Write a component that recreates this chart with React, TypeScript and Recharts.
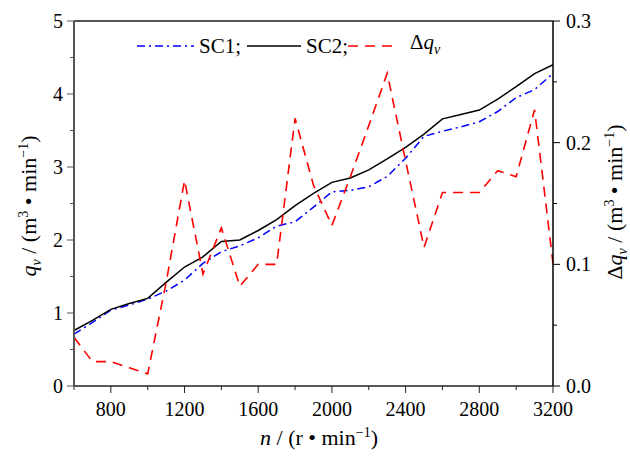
import React from "react";
import {
  LineChart,
  Line,
  XAxis,
  YAxis,
  Legend,
  Label,
  ReferenceLine,
} from "recharts";

// rotation speed n (r/min)
const rpm = [
  600, 700, 800, 900, 1000, 1100, 1200, 1300, 1400, 1500, 1600, 1700, 1800,
  1900, 2000, 2100, 2200, 2300, 2400, 2500, 2600, 2700, 2800, 2900, 3000,
  3100, 3200,
];
// flow qv for SC1 (m3/min)
const sc1 = [
  0.71, 0.87, 1.04, 1.11, 1.19, 1.3, 1.45, 1.68, 1.84, 1.92, 2.03, 2.19, 2.25,
  2.45, 2.66, 2.68, 2.73, 2.87, 3.12, 3.42, 3.49, 3.55, 3.62, 3.76, 3.95, 4.06,
  4.28,
];
// flow qv for SC2 (m3/min)
const sc2 = [
  0.76, 0.9, 1.05, 1.13, 1.2, 1.42, 1.63, 1.77, 1.98, 2.0, 2.13, 2.28, 2.47,
  2.64, 2.79, 2.85, 2.96, 3.11, 3.27, 3.45, 3.66, 3.72, 3.78, 3.93, 4.1, 4.28,
  4.4,
];
// difference delta qv (m3/min)
const dq = [
  0.04, 0.02, 0.02, 0.015, 0.01, 0.085, 0.169, 0.092, 0.13, 0.082, 0.1, 0.1,
  0.22, 0.165, 0.132, 0.172, 0.214, 0.257, 0.185, 0.114, 0.159, 0.159, 0.159,
  0.177, 0.172, 0.227, 0.101,
];

const xTicks = [600, 800, 1000, 1200, 1400, 1600, 1800, 2000, 2200, 2400, 2600, 2800, 3000, 3200];
const xLabels = [800, 1200, 1600, 2000, 2400, 2800, 3200];
const leftTicks = [0, 0.5, 1, 1.5, 2, 2.5, 3, 3.5, 4, 4.5, 5];
const rightTicks = [0, 0.05, 0.1, 0.15, 0.2, 0.25, 0.3];

const data = rpm.map((n, i) => ({ n, sc1: sc1[i], sc2: sc2[i], dq: dq[i] }));

const FONT = "'Liberation Serif', 'DejaVu Serif', serif";

const XTick = ({ x, y, payload }: any) => {
  const major = xLabels.includes(payload.value);
  return (
    <g>
      <line x1={x} x2={x} y1={y} y2={y + (major ? 7 : 4)} stroke="#222" />
      {major && (
        <text x={x} y={y + 30} textAnchor="middle" fontSize={20} style={{ fontFamily: FONT }} fill="#000">
          {payload.value}
        </text>
      )}
    </g>
  );
};

const LeftTick = ({ x, y, payload }: any) => {
  const major = Number.isInteger(payload.value);
  return (
    <g>
      <line x1={x} x2={x - (major ? 7 : 4)} y1={y} y2={y} stroke="#555" />
      {major && (
        <text x={x - 11} y={y + 7} textAnchor="end" fontSize={20} style={{ fontFamily: FONT }} fill="#000">
          {payload.value}
        </text>
      )}
    </g>
  );
};

const RightTick = ({ x, y, payload }: any) => {
  const major = Math.round(payload.value * 100) % 10 === 0;
  return (
    <g>
      <line x1={x} x2={x + (major ? 7 : 4)} y1={y} y2={y} stroke="#000" />
      {major && (
        <text x={x + 13} y={y + 7} textAnchor="start" fontSize={20} style={{ fontFamily: FONT }} fill="#000">
          {payload.value.toFixed(1)}
        </text>
      )}
    </g>
  );
};

const XTitle = () => (
  <text x={319} y={445} textAnchor="middle" fontSize={22} style={{ fontFamily: FONT }} fill="#000">
    <tspan fontStyle="italic">n</tspan>
    <tspan> / (r • min</tspan>
    <tspan dy={-8} fontSize={14}>−1</tspan>
    <tspan dy={8}>)</tspan>
  </text>
);

const LeftTitle = () => (
  <text
    x={0}
    y={0}
    transform="translate(36, 206) rotate(-90)"
    textAnchor="middle"
    fontSize={22}
    style={{ fontFamily: FONT }}
    fill="#000"
  >
    <tspan fontStyle="italic">q</tspan>
    <tspan dy={5} fontSize={14} fontStyle="italic">v</tspan>
    <tspan dy={-5}> / (m</tspan>
    <tspan dy={-8} fontSize={14}>3</tspan>
    <tspan dy={8}> • min</tspan>
    <tspan dy={-8} fontSize={14}>−1</tspan>
    <tspan dy={8}>)</tspan>
  </text>
);

const RightTitle = () => (
  <text
    x={0}
    y={0}
    transform="translate(622, 202) rotate(-90)"
    textAnchor="middle"
    fontSize={22}
    style={{ fontFamily: FONT }}
    fill="#000"
  >
    <tspan>Δ</tspan>
    <tspan fontStyle="italic">q</tspan>
    <tspan dy={5} fontSize={14} fontStyle="italic">v</tspan>
    <tspan dy={-5}> / (m</tspan>
    <tspan dy={-8} fontSize={14}>3</tspan>
    <tspan dy={8}> • min</tspan>
    <tspan dy={-8} fontSize={14}>−1</tspan>
    <tspan dy={8}>)</tspan>
  </text>
);

const LegendContent = () => (
  <div
    style={{
      display: "flex",
      alignItems: "center",
      fontFamily: FONT,
      fontSize: 21,
      whiteSpace: "nowrap",
      color: "#000",
      lineHeight: "26px",
    }}
  >
    <svg width={57} height={10}>
      <line x1={0} x2={57} y1={5} y2={5} stroke="#0000ff" strokeWidth={1.5} strokeDasharray="8 4 2 4" />
    </svg>
    <span style={{ marginLeft: 5 }}>SC1;</span>
    <svg width={54} height={10} style={{ marginLeft: 6 }}>
      <line x1={0} x2={54} y1={5} y2={5} stroke="#000" strokeWidth={1.5} />
    </svg>
    <span style={{ marginLeft: 5 }}>SC2;</span>
    <svg width={50} height={10}>
      <line x1={0} x2={50} y1={5} y2={5} stroke="#ff0000" strokeWidth={1.6} strokeDasharray="10 7" />
    </svg>
    <span style={{ marginLeft: 12 }}>
      Δ<i>q</i>
      <sub style={{ fontSize: 14, fontStyle: "italic" }}>v</sub>
    </span>
  </div>
);

export default function App() {
  return (
    <div style={{ position: "absolute", left: 0, top: 0, width: 630, height: 462, background: "#fff" }}>
      <LineChart
        width={630}
        height={462}
        data={data}
        margin={{ top: 21, left: 24, right: 17, bottom: 16 }}
      >
        <XAxis
          dataKey="n"
          type="number"
          domain={[600, 3200]}
          ticks={xTicks}
          interval={0}
          tickSize={0}
          tickMargin={0}
          tickLine={false}
          tick={(p: any) => <XTick {...p} />}
          axisLine={{ stroke: "#222", strokeWidth: 1.5 }}
          height={60}
        >
          <Label content={() => <XTitle />} />
        </XAxis>
        <YAxis
          yAxisId="left"
          domain={[0, 5]}
          ticks={leftTicks}
          interval={0}
          tickSize={0}
          tickMargin={0}
          tickLine={false}
          tick={(p: any) => <LeftTick {...p} />}
          axisLine={{ stroke: "#555", strokeWidth: 2 }}
          width={50}
        >
          <Label content={() => <LeftTitle />} />
        </YAxis>
        <YAxis
          yAxisId="right"
          orientation="right"
          domain={[0, 0.3]}
          ticks={rightTicks}
          interval={0}
          tickSize={0}
          tickMargin={0}
          tickLine={false}
          tick={(p: any) => <RightTick {...p} />}
          axisLine={{ stroke: "#000", strokeWidth: 1.5 }}
          width={60}
        >
          <Label content={() => <RightTitle />} />
        </YAxis>
        <ReferenceLine yAxisId="left" y={5} stroke="#555" strokeWidth={2} />
        <Legend
          verticalAlign="middle"
          align="center"
          layout="horizontal"
          wrapperStyle={{ left: 137, top: 29, width: 340 }}
          content={() => <LegendContent />}
        />
        <Line
          yAxisId="left"
          type="linear"
          dataKey="sc1"
          name="SC1"
          stroke="#0000ff"
          strokeWidth={1.5}
          strokeDasharray="8 4 2 4"
          dot={false}
          isAnimationActive={false}
        />
        <Line
          yAxisId="left"
          type="linear"
          dataKey="sc2"
          name="SC2"
          stroke="#000000"
          strokeWidth={1.5}
          dot={false}
          isAnimationActive={false}
        />
        <Line
          yAxisId="right"
          type="linear"
          dataKey="dq"
          name="Δqv"
          stroke="#ff0000"
          strokeWidth={1.6}
          strokeDasharray="10 7"
          dot={false}
          isAnimationActive={false}
        />
      </LineChart>
    </div>
  );
}
